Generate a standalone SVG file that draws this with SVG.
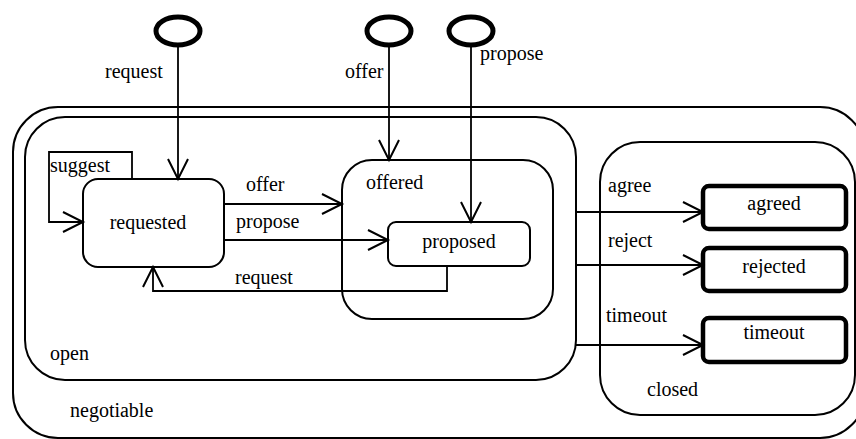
<svg xmlns="http://www.w3.org/2000/svg" width="856" height="439" viewBox="0 0 856 439">
<defs>
<marker id="arr" markerUnits="userSpaceOnUse" markerWidth="24" markerHeight="24" refX="20" refY="10" orient="auto" overflow="visible">
<path d="M0,0 L20,10 L0,20" fill="none" stroke="#000" stroke-width="2"/>
</marker>
</defs>
<style>
.c{fill:none;stroke:#000;stroke-width:2}
.s{fill:#fff;stroke:#000;stroke-width:2}
.f{fill:#fff;stroke:#000;stroke-width:4.5}
.i{fill:#fff;stroke:#000;stroke-width:5}
.l{fill:none;stroke:#000;stroke-width:1.8}
.t{font-family:'Liberation Serif','Times New Roman',Tinos,'Nimbus Roman','Noto Serif','DejaVu Serif',FreeSerif,Times,serif;font-size:20px;fill:#000}
.m{text-anchor:middle}
</style>
<rect width="856" height="439" fill="#fff"/>
<g id="negotiable"><rect class="c" x="13" y="107" width="852" height="331" rx="45"/><text class="t" x="70" y="417">negotiable</text></g>
<g id="open"><rect class="c" x="25" y="117" width="551" height="263" rx="40"/><text class="t" x="50" y="360">open</text></g>
<g id="closed"><rect class="c" x="600" y="142" width="255" height="273" rx="40"/><text class="t" x="647" y="396">closed</text></g>
<g id="offered"><rect class="c" x="342" y="160" width="211" height="159" rx="30"/><text class="t" x="366" y="189">offered</text></g>
<g id="requested"><rect class="s" x="83" y="179" width="141" height="88" rx="15"/><text class="t m" x="148" y="229">requested</text></g>
<g id="proposed"><rect class="s" x="388" y="222" width="142" height="44" rx="8"/><text class="t m" x="459" y="248">proposed</text></g>
<g id="agreed"><rect class="f" x="703" y="186" width="143" height="43" rx="6"/><text class="t m" x="774" y="210">agreed</text></g>
<g id="rejected"><rect class="f" x="703" y="248" width="143" height="43" rx="6"/><text class="t m" x="774" y="273">rejected</text></g>
<g id="timeout"><rect class="f" x="703" y="318" width="143" height="44" rx="6"/><text class="t m" x="774" y="339">timeout</text></g>
<g id="init1"><ellipse class="i" cx="178" cy="31" rx="22" ry="14"/></g>
<g id="init2"><ellipse class="i" cx="389" cy="31" rx="22" ry="14"/></g>
<g id="init3"><ellipse class="i" cx="471" cy="31" rx="22" ry="14"/></g>
<g id="connectors">
<path class="l" d="M178,45 V179" marker-end="url(#arr)"/>
<path class="l" d="M389,45 V160" marker-end="url(#arr)"/>
<path class="l" d="M471,45 V222" marker-end="url(#arr)"/>
<path class="l" d="M132,179 V152 H49 V222 H83" marker-end="url(#arr)"/>
<path class="l" d="M224,204 H342" marker-end="url(#arr)"/>
<path class="l" d="M224,240 H388" marker-end="url(#arr)"/>
<path class="l" d="M447,266 V291 H153 V267" marker-end="url(#arr)"/>
<path class="l" d="M576,212 H703" marker-end="url(#arr)"/>
<path class="l" d="M576,265 H703" marker-end="url(#arr)"/>
<path class="l" d="M576,345 H703" marker-end="url(#arr)"/>
<text class="t" x="105" y="78">request</text>
<text class="t" x="345" y="78">offer</text>
<text class="t" x="480" y="60">propose</text>
<text class="t" x="50" y="172">suggest</text>
<text class="t" x="246" y="191">offer</text>
<text class="t" x="236" y="228">propose</text>
<text class="t" x="235" y="284">request</text>
<text class="t" x="608" y="192">agree</text>
<text class="t" x="608" y="247">reject</text>
<text class="t" x="606" y="322">timeout</text>
</g>
</svg>
